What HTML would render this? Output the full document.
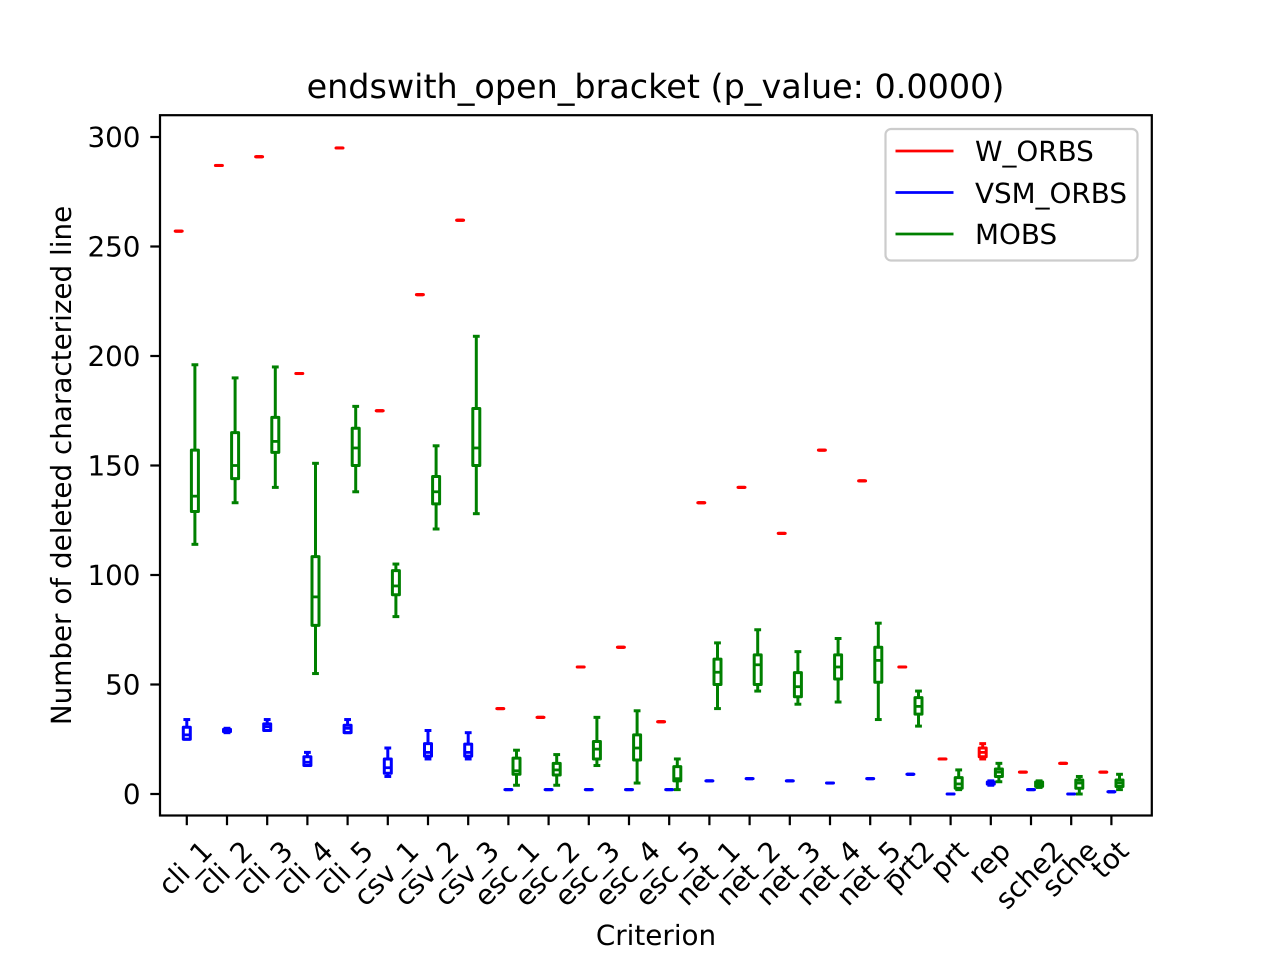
<!DOCTYPE html>
<html>
<head>
<meta charset="utf-8">
<title>endswith_open_bracket</title>
<style>
html,body{margin:0;padding:0;background:#fff;}
svg{display:block;}
text{font-family:"DejaVu Sans","Liberation Sans",sans-serif;fill:#000;text-rendering:geometricPrecision;}
</style>
</head>
<body>
<svg id="chart" width="1280" height="960" viewBox="0 0 1280 960" xmlns="http://www.w3.org/2000/svg">
  <rect x="0" y="0" width="1280" height="960" fill="#fff"/>
  <text x="655.5" y="98" font-size="33.4" text-anchor="middle">endswith_open_bracket (p_value: 0.0000)</text>
  <text x="656" y="945" font-size="27.8" text-anchor="middle">Criterion</text>
  <text x="0" y="0" font-size="27.8" text-anchor="middle" transform="translate(71,465.5) rotate(-90)">Number of deleted characterized line</text>
  <g id="ticks"></g>
  <g id="marks"></g>
  <rect x="160" y="115.2" width="991.8" height="700.3" fill="none" stroke="#000" stroke-width="2.22"/>
  <g>
    <rect x="885.5" y="129" width="252" height="131.5" rx="5.5" ry="5.5" fill="#fff" fill-opacity="0.8" stroke="#ccc" stroke-width="2.2"/>
    <line x1="895.5" x2="953.5" y1="151" y2="151" stroke="#f00" stroke-width="2.78"/>
    <text x="975" y="161" font-size="27.8">W_ORBS</text>
    <line x1="895.5" x2="953.5" y1="192.5" y2="192.5" stroke="#00f" stroke-width="2.78"/>
    <text x="975" y="203" font-size="27.8">VSM_ORBS</text>
    <line x1="895.5" x2="953.5" y1="234" y2="234" stroke="#008000" stroke-width="2.78"/>
    <text x="975" y="244" font-size="27.8">MOBS</text>
  </g>
</svg>
<script>
const categories = ["cli_1","cli_2","cli_3","cli_4","cli_5","csv_1","csv_2","csv_3","esc_1","esc_2","esc_3","esc_4","esc_5","net_1","net_2","net_3","net_4","net_5","prt2","prt","rep","sche2","sche","tot"];
const yTicks = [0,50,100,150,200,250,300];

// each entry: [low whisker, q1, median, q3, high whisker]
const wOrbs = [
  [257,257,257,257,257],[287,287,287,287,287],[291,291,291,291,291],[192,192,192,192,192],
  [295,295,295,295,295],[175,175,175,175,175],[228,228,228,228,228],[262,262,262,262,262],
  [39,39,39,39,39],[35,35,35,35,35],[58,58,58,58,58],[67,67,67,67,67],[33,33,33,33,33],
  [133,133,133,133,133],[140,140,140,140,140],[119,119,119,119,119],[157,157,157,157,157],
  [143,143,143,143,143],[58,58,58,58,58],[16,16,16,16,16],[16,17,19,21,23],
  [10,10,10,10,10],[14,14,14,14,14],[10,10,10,10,10]
];
const vsmOrbs = [
  [25,25,27,30.5,34],[28,28.5,29,29.5,30],[29,29,30.7,32,34],[13,13,14.5,17,19],
  [28,28,30,31.4,34],[8,9.5,12,16,21],[16,17.3,19,23,29],[16,17.3,19,22.8,28],
  [2,2,2,2,2],[2,2,2,2,2],[2,2,2,2,2],[2,2,2,2,2],[2,2,2,2,2],
  [6,6,6,6,6],[7,7,7,7,7],[6,6,6,6,6],[5,5,5,5,5],[7,7,7,7,7],[9,9,9,9,9],
  [0,0,0,0,0],[4,4.5,5,5.5,6],[2,2,2,2,2],[0,0,0,0,0],[1,1,1,1,1]
];
const mobs = [
  [114,129,136,157,196],[133,144,150,165,190],[140,156,161,172,195],[55,77,90,108.4,151],
  [138,150,158,167,177],[81,91,95,102,105],[121,132.5,138,145,159],[128,150,158,176,209],
  [4,9,10.6,16.4,20],[4,8.7,11,14,18],[13,16,20.5,24,35],[5,15.5,21,27,38],[2,6,7,12.5,16],
  [39,50,55.6,61.6,69],[47,50,59,63.5,75],[41,44.4,49,55.4,65],[42,52.5,58,63.5,71],
  [34,51,61,67,78],[31,36.5,40,44,47],[2,2.6,4.6,7.5,11],[5.6,8,10,11.4,14],
  [3,3.5,4.5,5.5,6],[0,2.6,5,6.4,8],[2,3.4,5,6.4,9]
];

const NS = "http://www.w3.org/2000/svg";
const plotBottom = 815.5;
function xAxis(i){ return 186.8 + i * 40.2; }
function yAxis(v){ return 794 - v * 2.19; }
function make(tag, attrs, parent){
  const el = document.createElementNS(NS, tag);
  for (const k in attrs) el.setAttribute(k, attrs[k]);
  parent.appendChild(el);
  return el;
}

const tickLayer = document.getElementById("ticks");
yTicks.forEach(function(v){
  const tick = make("line", {x1:150.3, x2:160, y1:yAxis(v), y2:yAxis(v), stroke:"#000", "stroke-width":2.22}, tickLayer);
  
  
  const label = make("text", {x:140.5, y:yAxis(v)+10, "font-size":27.8, "text-anchor":"end"}, tickLayer);
  
  
  label.textContent = v;
});
categories.forEach(function(c, i){
  const x = xAxis(i);
  const tick = make("line", {x1:x, x2:x, y1:plotBottom, y2:plotBottom+9.7, stroke:"#000", "stroke-width":2.22}, tickLayer);
  
  
  const label = make("text", {x:0, y:0, "font-size":27.8, "text-anchor":"middle"}, tickLayer);
  
  
  label.textContent = c;
  const w = label.getComputedTextLength();
  const h = 32.4;
  const rotatedHeight = (w + h) * Math.SQRT1_2;
  const cy = 836 + rotatedHeight / 2;
  // baseline sits about 0.26em below the visual centre of the line box
  const dy = 7.4;
  label.setAttribute("transform", "translate(" + x + "," + cy + ") rotate(-45) translate(0," + dy + ")");
});

const markLayer = document.getElementById("marks");
function drawBox(stats, x, color, series){
  const g = make("g", {stroke:color, "stroke-width":3, fill:"none"}, markLayer);
  
  
  const halfBox = 3.5, halfCap = 1.9;
  const lo = yAxis(stats[0]), q1 = yAxis(stats[1]), med = yAxis(stats[2]), q3 = yAxis(stats[3]), hi = yAxis(stats[4]);
  make("line", {x1:x, x2:x, y1:q1, y2:lo}, g);
  make("line", {x1:x, x2:x, y1:q3, y2:hi}, g);
  make("line", {x1:x-halfCap, x2:x+halfCap, y1:lo, y2:lo, "stroke-linecap":"square"}, g);
  make("line", {x1:x-halfCap, x2:x+halfCap, y1:hi, y2:hi, "stroke-linecap":"square"}, g);
  // a path (not a rect) with round joins so a zero-height box still paints its full dash width
  make("path", {d:"M" + (x-halfBox) + " " + q1 + "H" + (x+halfBox) + "V" + q3 + "H" + (x-halfBox) + "Z", "stroke-linejoin":"round"}, g);
  make("line", {x1:x-halfBox, x2:x+halfBox, y1:med, y2:med, "stroke-width":2.78}, g);
}
categories.forEach(function(c, i){
  drawBox(wOrbs[i], xAxis(i) - 8.1, "#f00", "w-orbs");
  drawBox(vsmOrbs[i], xAxis(i), "#00f", "vsm-orbs");
  drawBox(mobs[i], xAxis(i) + 8.1, "#008000", "mobs");
});
</script>
</body>
</html>
